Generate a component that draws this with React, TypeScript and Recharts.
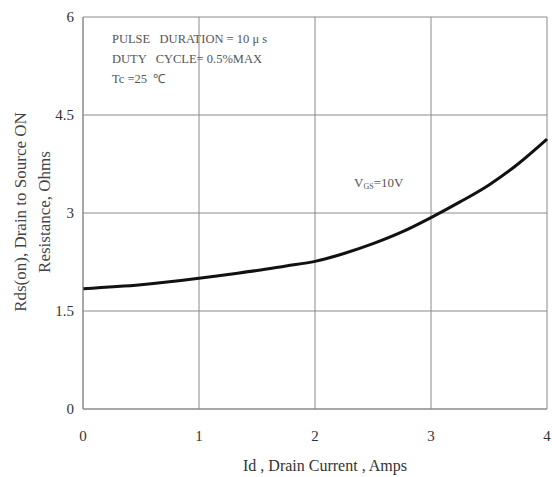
import React from "react";
import { CartesianGrid, Line, LineChart, XAxis, YAxis } from "recharts";

// Rds(on) vs drain current, Vgs = 10V
const drainCurrent = [0, 0.5, 1, 1.25, 1.5, 1.75, 2, 2.25, 2.5, 2.75, 3, 3.25, 3.5, 3.75, 4];
const rdsOn = [1.84, 1.9, 2.0, 2.06, 2.12, 2.19, 2.26, 2.38, 2.53, 2.71, 2.93, 3.17, 3.43, 3.75, 4.13];

const xTicks = [0, 1, 2, 3, 4];
const yTicks = [0, 1.5, 3, 4.5, 6];

const notes = ["PULSE   DURATION = 10 μ s", "DUTY   CYCLE= 0.5%MAX", "Tc =25  ℃"];

const data = drainCurrent.map((id, i) => ({ id, rds: rdsOn[i] }));

const FONT = '"Liberation Serif", "Times New Roman", serif';
const GRID = "#8a8a8a";

export default function App() {
  return (
    <div style={{ position: "absolute", left: 0, top: 0, width: 552, height: 477, background: "#fff", fontFamily: FONT }}>
      <LineChart width={552} height={477} data={data} margin={{ top: 17, right: 5, bottom: 38, left: 0 }}>
        <CartesianGrid stroke={GRID} strokeWidth={1} />
        <XAxis
          dataKey="id"
          type="number"
          domain={[0, 4]}
          ticks={xTicks}
          height={30}
          tickLine={false}
          axisLine={{ stroke: GRID }}
          tickSize={0}
          tickMargin={21}
          tick={{ fill: "#333", fontSize: 15, fontFamily: FONT }}
        />
        <YAxis
          type="number"
          domain={[0, 6]}
          ticks={yTicks}
          width={83}
          tickLine={false}
          axisLine={{ stroke: GRID }}
          tickSize={0}
          tickMargin={9}
          tick={{ fill: "#333", fontSize: 15, fontFamily: FONT }}
        />
        <Line
          type="monotone"
          dataKey="rds"
          stroke="#111"
          strokeWidth={3}
          dot={false}
          isAnimationActive={false}
        />
      </LineChart>
      <svg
        width={552}
        height={477}
        style={{ position: "absolute", left: 0, top: 0, pointerEvents: "none" }}
        fontFamily={FONT}
      >
        {notes.map((t, i) => (
          <text key={i} x={112} y={43 + i * 20} fontSize={12.5} fill="#555" style={{ whiteSpace: "pre" }}>
            {t}
          </text>
        ))}
        <text x={354} y={187} fontSize={13} fill="#555">
          V<tspan fontSize={8} dy={2}>GS</tspan>
          <tspan dy={-2}>=10V</tspan>
        </text>
        <text transform="translate(26,212) rotate(-90)" textAnchor="middle" fontSize={17} fill="#444">
          Rds(on), Drain to Source ON
        </text>
        <text transform="translate(50,212) rotate(-90)" textAnchor="middle" fontSize={17} fill="#444">
          Resistance, Ohms
        </text>
        <text x={325} y={471} textAnchor="middle" fontSize={16} fill="#333">
          Id , Drain Current , Amps
        </text>
      </svg>
    </div>
  );
}
